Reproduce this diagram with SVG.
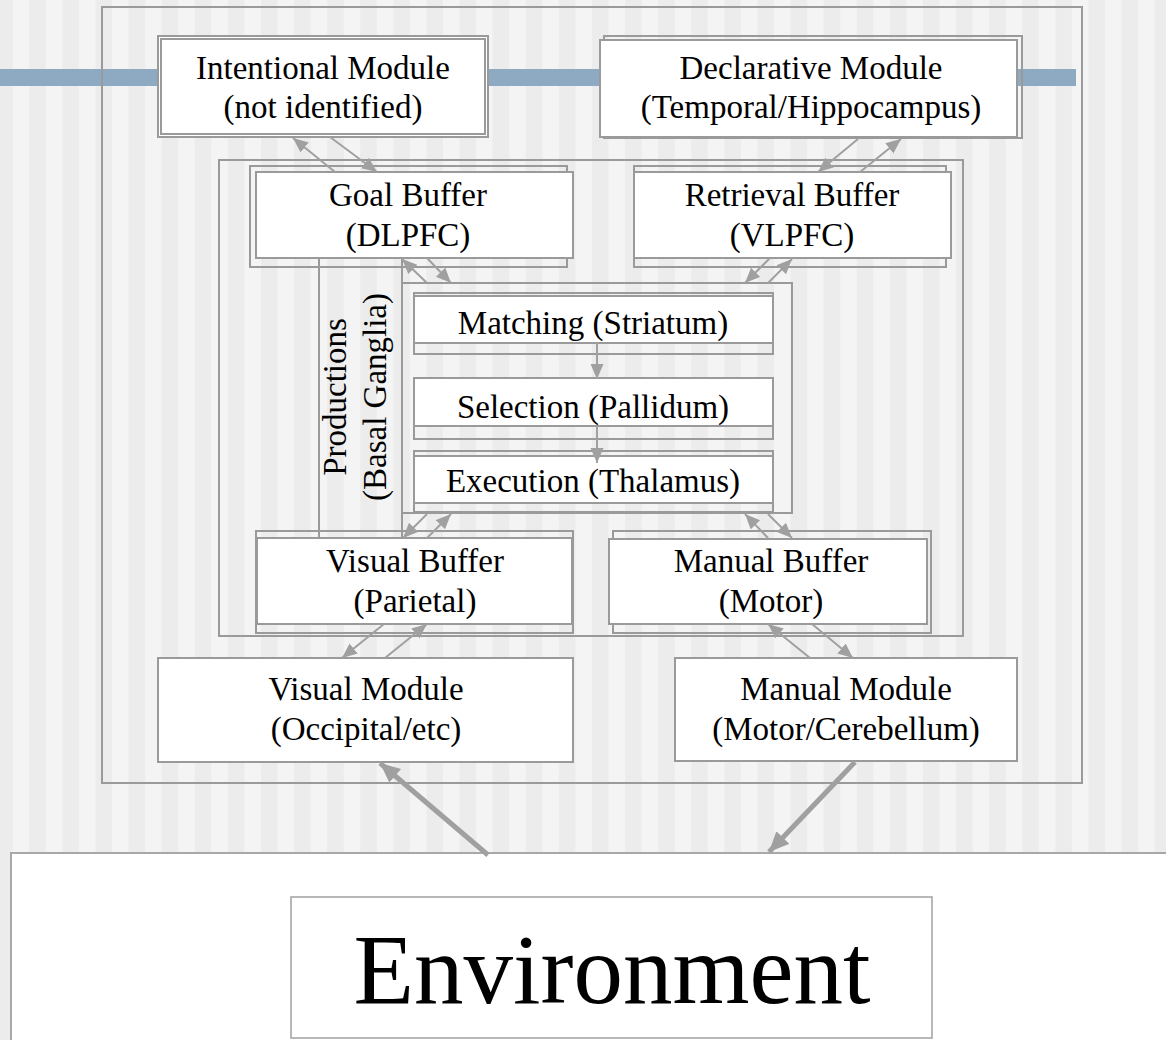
<svg xmlns="http://www.w3.org/2000/svg" width="1166" height="1040" viewBox="0 0 1166 1040">
  <style>
    .frame { fill: none; stroke: #9a9a9a; stroke-width: 2; }
    .box { fill: #ffffff; stroke: #9a9a9a; stroke-width: 2; }
    .lbl { font-family: "Liberation Serif", "Times New Roman", serif; font-size: 33px; fill: #000; text-anchor: middle; }
    .conn { fill: none; stroke: #a0a0a0; stroke-width: 2; marker-end: url(#ah); }
    .heavy { fill: none; stroke: #a0a0a0; stroke-width: 5; marker-end: url(#ahBig); }
  </style>
  <defs>
    <pattern id="stripes" x="12.7" y="0" width="33.1" height="10" patternUnits="userSpaceOnUse">
      <rect x="0" y="0" width="16.55" height="10" fill="#f4f4f4"/>
      <rect x="16.55" y="0" width="16.55" height="10" fill="#ececec"/>
    </pattern>
    <marker id="ah" markerUnits="userSpaceOnUse" markerWidth="16" markerHeight="14" refX="15" refY="6.5" orient="auto">
      <path d="M0,0 L15,6.5 L0,13 Z" fill="#a0a0a0"/>
    </marker>
    <marker id="ahBig" markerUnits="userSpaceOnUse" markerWidth="22" markerHeight="20" refX="20" refY="9" orient="auto">
      <path d="M0,0 L20,9 L0,18 Z" fill="#a0a0a0"/>
    </marker>
  </defs>

  <!-- backdrop -->
  <rect x="0" y="0" width="1166" height="1040" fill="url(#stripes)"/>
  <rect x="0" y="69" width="1076" height="17" fill="#8eaac3"/>

  <!-- enclosing frames -->
  <rect id="architecture" class="frame" x="102" y="7" width="980" height="776"/>
  <rect id="buffers" class="frame" x="219" y="160" width="744" height="476"/>

  <g id="intentional-module">
    <rect class="box" x="158" y="36" width="330" height="101"/>
    <rect class="box" x="161" y="39" width="324" height="95"/>
    <text class="lbl" x="323" y="79">Intentional Module</text>
    <text class="lbl" x="323" y="118">(not identified)</text>
  </g>

  <g id="declarative-module">
    <rect class="frame" x="604" y="36" width="418" height="102"/>
    <rect class="box" x="600" y="40" width="417" height="97"/>
    <text class="lbl" x="811" y="79">Declarative Module</text>
    <text class="lbl" x="811" y="118">(Temporal/Hippocampus)</text>
  </g>

  <g id="goal-buffer">
    <rect class="frame" x="250" y="166" width="317" height="101"/>
    <rect class="box" x="256" y="172" width="317" height="86"/>
    <text class="lbl" x="408" y="206">Goal Buffer</text>
    <text class="lbl" x="408" y="246">(DLPFC)</text>
  </g>

  <g id="retrieval-buffer">
    <rect class="frame" x="634" y="166" width="312" height="101"/>
    <rect class="box" x="634" y="172" width="317" height="86"/>
    <text class="lbl" x="792" y="206">Retrieval Buffer</text>
    <text class="lbl" x="792" y="246">(VLPFC)</text>
  </g>

  <g id="productions">
    <rect class="frame" x="319" y="258" width="83" height="280"/>
    <rect class="frame" x="402" y="283" width="390" height="230"/>
    <text class="lbl" transform="translate(346,397) rotate(-90)">Productions</text>
    <text class="lbl" transform="translate(386,397) rotate(-90)">(Basal Ganglia)</text>
  </g>

  <g id="matching">
    <rect class="frame" x="414" y="293" width="359" height="61"/>
    <rect class="box" x="414" y="296" width="359" height="47"/>
    <text class="lbl" x="593" y="334">Matching (Striatum)</text>
  </g>

  <g id="selection">
    <rect class="frame" x="414" y="378" width="359" height="61"/>
    <rect class="box" x="414" y="378" width="359" height="48"/>
    <text class="lbl" x="593" y="418">Selection (Pallidum)</text>
  </g>

  <g id="execution">
    <rect class="frame" x="414" y="451" width="359" height="61"/>
    <rect class="box" x="414" y="456" width="359" height="47"/>
    <text class="lbl" x="593" y="492">Execution (Thalamus)</text>
  </g>

  <g id="visual-buffer">
    <rect class="frame" x="256" y="531" width="317" height="102"/>
    <rect class="box" x="257" y="538" width="315" height="86"/>
    <text class="lbl" x="415" y="572">Visual Buffer</text>
    <text class="lbl" x="415" y="612">(Parietal)</text>
  </g>

  <g id="manual-buffer">
    <rect class="frame" x="613" y="531" width="318" height="102"/>
    <rect class="box" x="609" y="539" width="318" height="85"/>
    <text class="lbl" x="771" y="572">Manual Buffer</text>
    <text class="lbl" x="771" y="612">(Motor)</text>
  </g>

  <g id="visual-module">
    <rect class="box" x="158" y="658" width="415" height="104" stroke-width="2.5"/>
    <text class="lbl" x="366" y="700">Visual Module</text>
    <text class="lbl" x="366" y="740">(Occipital/etc)</text>
  </g>

  <g id="manual-module">
    <rect class="box" x="675" y="658" width="342" height="103" stroke-width="2.5"/>
    <text class="lbl" x="846" y="700">Manual Module</text>
    <text class="lbl" x="846" y="740">(Motor/Cerebellum)</text>
  </g>

  <g id="environment">
    <rect x="11" y="853" width="1170" height="200" fill="#ffffff" stroke="#a8a8a8" stroke-width="2"/>
    <rect x="291" y="897" width="641" height="141" fill="#ffffff" stroke="#a0a0a0" stroke-width="1.5"/>
    <text class="lbl" x="612" y="1003" style="font-size:99px">Environment</text>
  </g>

  <g id="connectors">
    <!-- intentional module / goal buffer -->
    <line class="conn" x1="335" y1="172" x2="293" y2="138"/>
    <line class="conn" x1="330" y1="137" x2="377" y2="172"/>
    <!-- declarative module / retrieval buffer -->
    <line class="conn" x1="858" y1="139" x2="818" y2="172"/>
    <line class="conn" x1="860" y1="172" x2="901" y2="139"/>
    <!-- goal buffer / productions -->
    <line class="conn" x1="427" y1="283" x2="402" y2="259"/>
    <line class="conn" x1="427" y1="258" x2="451" y2="283"/>
    <!-- retrieval buffer / productions -->
    <line class="conn" x1="770" y1="258" x2="745" y2="283"/>
    <line class="conn" x1="768" y1="283" x2="792" y2="259"/>
    <!-- production stages -->
    <line class="conn" x1="597" y1="343" x2="597" y2="379"/>
    <line class="conn" x1="597" y1="426" x2="597" y2="463"/>
    <!-- productions / visual buffer -->
    <line class="conn" x1="427" y1="514" x2="403" y2="538"/>
    <line class="conn" x1="427" y1="538" x2="451" y2="514"/>
    <!-- productions / manual buffer -->
    <line class="conn" x1="768" y1="538" x2="745" y2="514"/>
    <line class="conn" x1="768" y1="514" x2="792" y2="538"/>
    <!-- visual buffer / visual module -->
    <line class="conn" x1="384" y1="624" x2="342" y2="658"/>
    <line class="conn" x1="385" y1="658" x2="427" y2="624"/>
    <!-- manual buffer / manual module -->
    <line class="conn" x1="810" y1="658" x2="768" y2="624"/>
    <line class="conn" x1="812" y1="624" x2="853" y2="658"/>
    <!-- environment links -->
    <line class="heavy" x1="488" y1="855" x2="380" y2="763"/>
    <line class="heavy" x1="855" y1="762" x2="769" y2="852"/>
  </g>
</svg>
